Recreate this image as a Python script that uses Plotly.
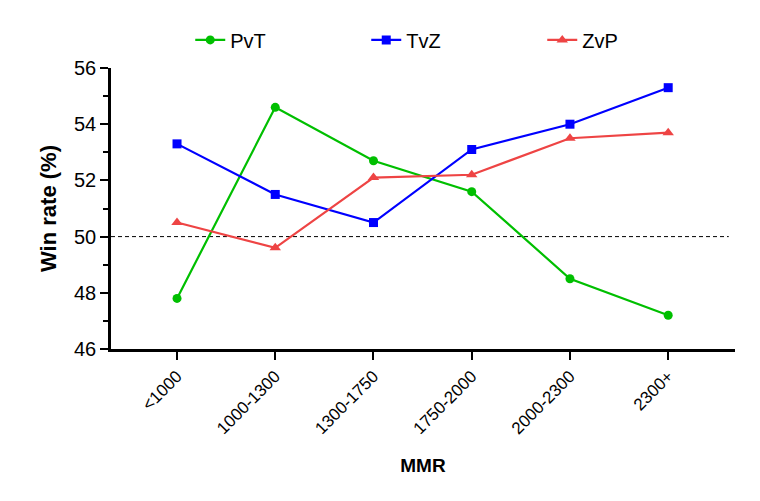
import plotly.graph_objects as go

categories = ["<1000", "1000-1300", "1300-1750", "1750-2000", "2000-2300", "2300+"]
pvt = [47.8, 54.6, 52.7, 51.6, 48.5, 47.2]
tvz = [53.3, 51.5, 50.5, 53.1, 54.0, 55.3]
zvp = [50.5, 49.6, 52.1, 52.2, 53.5, 53.7]
reference = 50

x = list(range(len(categories)))
fig = go.Figure()
fig.add_trace(go.Scatter(x=x, y=pvt, name="PvT", mode="lines+markers",
                         line=dict(color="#00BF00", width=2.2),
                         marker=dict(symbol="circle", size=9, color="#00BF00")))
fig.add_trace(go.Scatter(x=x, y=tvz, name="TvZ", mode="lines+markers",
                         line=dict(color="#0000FF", width=2.2),
                         marker=dict(symbol="square", size=9, color="#0000FF")))
fig.add_trace(go.Scatter(x=x, y=zvp, name="ZvP", mode="lines+markers",
                         line=dict(color="#EE4444", width=2.2),
                         marker=dict(symbol="triangle-up", size=10, color="#EE4444")))

fig.add_shape(type="line", xref="paper", yref="y", x0=0, x1=0.99, y0=reference, y1=reference,
              line=dict(color="black", width=1, dash="4px,3px"), layer="below")

font = "Liberation Sans, Arial, sans-serif"
fig.update_layout(
    width=760, height=501,
    margin=dict(l=111, r=25, t=68, b=152),
    paper_bgcolor="white", plot_bgcolor="white",
    font=dict(family=font, size=17, color="black"),
    showlegend=True,
    legend=dict(orientation="h", x=0.127, y=1.1, xanchor="left", yanchor="middle",
                entrywidth=131, entrywidthmode="pixels", font=dict(size=20),
                bgcolor="rgba(0,0,0,0)"),
    xaxis=dict(tickmode="array", tickvals=x, ticktext=categories, tickangle=-45,
               range=[-0.672, 5.68], showgrid=False, zeroline=False,
               showline=True, linecolor="black", linewidth=2.5,
               ticks="outside", ticklen=8, tickwidth=2, tickcolor="black",
               tickfont=dict(size=17),
               title=dict(text="<b>MMR</b>", font=dict(size=19), standoff=22)),
    yaxis=dict(range=[46, 56], tickvals=[46, 48, 50, 52, 54, 56], showgrid=False, zeroline=False,
               showline=True, linecolor="black", linewidth=2.5,
               ticks="outside", ticklen=8, tickwidth=2, tickcolor="black",
               tickfont=dict(size=20),
               minor=dict(tickvals=[47, 49, 51, 53, 55], ticks="outside", ticklen=5,
                          tickwidth=2, tickcolor="black"),
               title=dict(text="<b>Win rate (%)</b>", font=dict(size=22), standoff=12)),
)

fig.write_html("out.html")
